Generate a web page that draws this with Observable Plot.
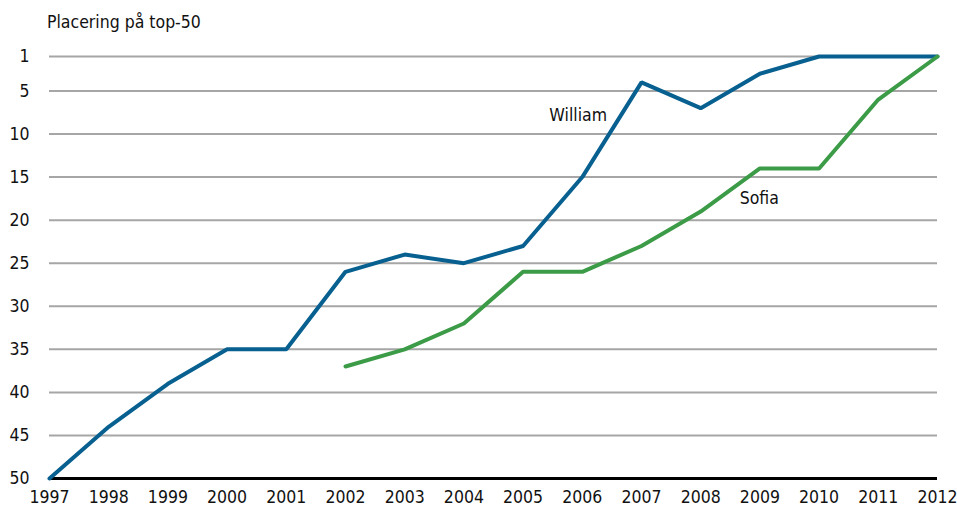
<!DOCTYPE html>
<html>
<head>
<meta charset="utf-8">
<script src="https://cdn.jsdelivr.net/npm/d3@7"></script>
<script src="https://cdn.jsdelivr.net/npm/@observablehq/plot@0.6"></script>
<style>
  body { margin: 0; background: #fff; font-family: "Liberation Sans Narrow", "Arial Narrow", "DejaVu Sans Condensed", sans-serif; }
  #title { height: 40px; position: relative; }
  #title span { position: absolute; left: 47px; top: 12px; font-size: 17.5px; color: #111; }
</style>
</head>
<body>
<div id="title"><span>Placering på top-50</span></div>
<div id="chart"></div>
<script>
const years = [1997,1998,1999,2000,2001,2002,2003,2004,2005,2006,2007,2008,2009,2010,2011,2012];
const william = [50,44,39,35,35,26,24,25,23,15,4,7,3,1,1,1];
const sofiaYears = [2002,2003,2004,2005,2006,2007,2008,2009,2010,2011,2012];
const sofia = [37,35,32,26,26,23,19,14,14,6,1];
const yTicks = [1,5,10,15,20,25,30,35,40,45,50];
const labelNames = ["William","Sofia"];
const labelYears = [2005.93, 2008.99];
const labelRanks = [7.85, 17.5];
const colors = {William: "#07608f", Sofia: "#3c9b47"};

const wData = years.map((y,i) => ({year: y, rank: william[i]}));
const sData = sofiaYears.map((y,i) => ({year: y, rank: sofia[i]}));
const lData = labelNames.map((n,i) => ({name: n, year: labelYears[i], rank: labelRanks[i]}));

const chart = Plot.plot({
  width: 957,
  height: 474,
  marginTop: 16,
  marginBottom: 36,
  marginLeft: 49,
  marginRight: 20,
  style: {fontFamily: '"Liberation Sans Narrow", "Arial Narrow", "DejaVu Sans Condensed", sans-serif', fontSize: "17.5px", color: "#111", background: "#fff"},
  x: {domain: [1997, 2012], ticks: years, tickFormat: d => String(d), label: null},
  y: {domain: [1, 50], reverse: true, ticks: yTicks, label: null},
  marks: [
    Plot.ruleY(yTicks.filter(t => t !== 50), {stroke: "#a6a6a6", strokeWidth: 2}),
    Plot.ruleY([50], {stroke: "#000", strokeWidth: 3}),
    Plot.axisY({ticks: yTicks, tickSize: 0, tickPadding: 20, label: null, fontSize: "17.5px"}),
    Plot.axisX({ticks: years, tickFormat: d => String(d), tickSize: 0, tickPadding: 12, label: null, fontSize: "17.5px"}),
    Plot.line(wData, {x: "year", y: "rank", stroke: colors.William, strokeWidth: 4, strokeLinejoin: "miter"}),
    Plot.line(sData, {x: "year", y: "rank", stroke: colors.Sofia, strokeWidth: 4, strokeLinejoin: "miter"}),
    Plot.text(lData, {x: "year", y: "rank", text: "name", fontSize: "17.5px", fill: "#111"})
  ]
});
document.getElementById("chart").appendChild(chart);
</script>
</body>
</html>
